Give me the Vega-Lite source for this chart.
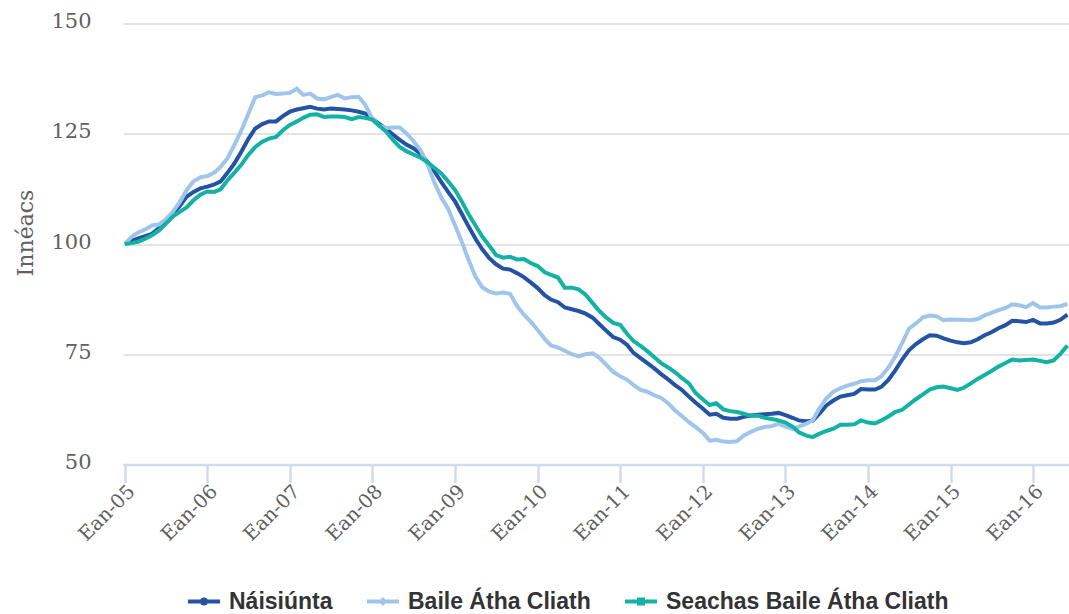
{
  "$schema": "https://vega.github.io/schema/vega-lite/v6.json",
  "width": 946,
  "height": 441,
  "autosize": {"type": "none"},
  "padding": {"left": 123, "top": 23.5, "right": 0, "bottom": 149.5},
  "background": "white",
  "config": {"view": {"stroke": null}},
  "data": {"values": [
    {"date":"2005-01-01","Náisiúnta":100.0,"Baile Átha Cliath":100.0,"Seachas Baile Átha Cliath":100.0},
    {"date":"2005-02-01","Náisiúnta":100.7,"Baile Átha Cliath":101.7,"Seachas Baile Átha Cliath":100.2},
    {"date":"2005-03-01","Náisiúnta":101.3,"Baile Átha Cliath":102.6,"Seachas Baile Átha Cliath":100.5},
    {"date":"2005-04-01","Náisiúnta":101.8,"Baile Átha Cliath":103.3,"Seachas Baile Átha Cliath":101.2},
    {"date":"2005-05-01","Náisiúnta":102.3,"Baile Átha Cliath":104.2,"Seachas Baile Átha Cliath":102.0},
    {"date":"2005-06-01","Náisiúnta":103.6,"Baile Átha Cliath":104.4,"Seachas Baile Átha Cliath":103.1},
    {"date":"2005-07-01","Náisiúnta":105.3,"Baile Átha Cliath":105.6,"Seachas Baile Átha Cliath":104.6},
    {"date":"2005-08-01","Náisiúnta":106.8,"Baile Átha Cliath":107.3,"Seachas Baile Átha Cliath":106.2},
    {"date":"2005-09-01","Náisiúnta":108.6,"Baile Átha Cliath":109.5,"Seachas Baile Átha Cliath":107.3},
    {"date":"2005-10-01","Náisiúnta":110.7,"Baile Átha Cliath":112.2,"Seachas Baile Átha Cliath":108.3},
    {"date":"2005-11-01","Náisiúnta":111.8,"Baile Átha Cliath":114.2,"Seachas Baile Átha Cliath":109.9},
    {"date":"2005-12-01","Náisiúnta":112.6,"Baile Átha Cliath":115.1,"Seachas Baile Átha Cliath":111.2},
    {"date":"2006-01-01","Náisiúnta":113.0,"Baile Átha Cliath":115.4,"Seachas Baile Átha Cliath":111.9},
    {"date":"2006-02-01","Náisiúnta":113.5,"Baile Átha Cliath":116.2,"Seachas Baile Átha Cliath":111.8},
    {"date":"2006-03-01","Náisiúnta":114.2,"Baile Átha Cliath":117.5,"Seachas Baile Átha Cliath":112.4},
    {"date":"2006-04-01","Náisiúnta":116.2,"Baile Átha Cliath":119.5,"Seachas Baile Átha Cliath":114.5},
    {"date":"2006-05-01","Náisiúnta":118.3,"Baile Átha Cliath":122.5,"Seachas Baile Átha Cliath":116.2},
    {"date":"2006-06-01","Náisiúnta":121.0,"Baile Átha Cliath":125.8,"Seachas Baile Átha Cliath":118.0},
    {"date":"2006-07-01","Náisiúnta":123.8,"Baile Átha Cliath":129.5,"Seachas Baile Átha Cliath":120.2},
    {"date":"2006-08-01","Náisiúnta":126.2,"Baile Átha Cliath":133.3,"Seachas Baile Átha Cliath":122.0},
    {"date":"2006-09-01","Náisiúnta":127.2,"Baile Átha Cliath":133.7,"Seachas Baile Átha Cliath":123.2},
    {"date":"2006-10-01","Náisiúnta":127.8,"Baile Átha Cliath":134.4,"Seachas Baile Átha Cliath":123.9},
    {"date":"2006-11-01","Náisiúnta":127.8,"Baile Átha Cliath":134.0,"Seachas Baile Átha Cliath":124.3},
    {"date":"2006-12-01","Náisiúnta":129.0,"Baile Átha Cliath":134.1,"Seachas Baile Átha Cliath":125.8},
    {"date":"2007-01-01","Náisiúnta":130.0,"Baile Átha Cliath":134.3,"Seachas Baile Átha Cliath":127.0},
    {"date":"2007-02-01","Náisiúnta":130.5,"Baile Átha Cliath":135.2,"Seachas Baile Átha Cliath":127.8},
    {"date":"2007-03-01","Náisiúnta":130.8,"Baile Átha Cliath":133.8,"Seachas Baile Átha Cliath":128.6},
    {"date":"2007-04-01","Náisiúnta":131.1,"Baile Átha Cliath":134.1,"Seachas Baile Átha Cliath":129.3},
    {"date":"2007-05-01","Náisiúnta":130.7,"Baile Átha Cliath":133.0,"Seachas Baile Átha Cliath":129.4},
    {"date":"2007-06-01","Náisiúnta":130.5,"Baile Átha Cliath":132.8,"Seachas Baile Átha Cliath":128.8},
    {"date":"2007-07-01","Náisiúnta":130.7,"Baile Átha Cliath":133.3,"Seachas Baile Átha Cliath":128.9},
    {"date":"2007-08-01","Náisiúnta":130.6,"Baile Átha Cliath":133.8,"Seachas Baile Átha Cliath":128.9},
    {"date":"2007-09-01","Náisiúnta":130.5,"Baile Átha Cliath":133.0,"Seachas Baile Átha Cliath":128.8},
    {"date":"2007-10-01","Náisiúnta":130.3,"Baile Átha Cliath":133.3,"Seachas Baile Átha Cliath":128.3},
    {"date":"2007-11-01","Náisiúnta":130.0,"Baile Átha Cliath":133.4,"Seachas Baile Átha Cliath":128.8},
    {"date":"2007-12-01","Náisiúnta":129.6,"Baile Átha Cliath":131.5,"Seachas Baile Átha Cliath":128.6},
    {"date":"2008-01-01","Náisiúnta":128.4,"Baile Átha Cliath":128.4,"Seachas Baile Átha Cliath":128.2},
    {"date":"2008-02-01","Náisiúnta":127.2,"Baile Átha Cliath":126.8,"Seachas Baile Átha Cliath":126.8},
    {"date":"2008-03-01","Náisiúnta":126.1,"Baile Átha Cliath":126.3,"Seachas Baile Átha Cliath":125.5},
    {"date":"2008-04-01","Náisiúnta":124.8,"Baile Átha Cliath":126.4,"Seachas Baile Átha Cliath":123.6},
    {"date":"2008-05-01","Náisiúnta":123.6,"Baile Átha Cliath":126.4,"Seachas Baile Átha Cliath":122.0},
    {"date":"2008-06-01","Náisiúnta":122.5,"Baile Átha Cliath":125.0,"Seachas Baile Átha Cliath":121.0},
    {"date":"2008-07-01","Náisiúnta":121.7,"Baile Átha Cliath":123.3,"Seachas Baile Átha Cliath":120.3},
    {"date":"2008-08-01","Náisiúnta":120.5,"Baile Átha Cliath":121.3,"Seachas Baile Átha Cliath":119.6},
    {"date":"2008-09-01","Náisiúnta":118.6,"Baile Átha Cliath":118.0,"Seachas Baile Átha Cliath":118.5},
    {"date":"2008-10-01","Náisiúnta":116.5,"Baile Átha Cliath":114.0,"Seachas Baile Átha Cliath":117.3},
    {"date":"2008-11-01","Náisiúnta":114.0,"Baile Átha Cliath":110.5,"Seachas Baile Átha Cliath":116.0},
    {"date":"2008-12-01","Náisiúnta":111.8,"Baile Átha Cliath":108.0,"Seachas Baile Átha Cliath":114.2},
    {"date":"2009-01-01","Náisiúnta":109.6,"Baile Átha Cliath":104.2,"Seachas Baile Átha Cliath":112.2},
    {"date":"2009-02-01","Náisiúnta":106.7,"Baile Átha Cliath":100.3,"Seachas Baile Átha Cliath":109.5},
    {"date":"2009-03-01","Náisiúnta":104.0,"Baile Átha Cliath":96.4,"Seachas Baile Átha Cliath":106.8},
    {"date":"2009-04-01","Náisiúnta":101.2,"Baile Átha Cliath":92.6,"Seachas Baile Átha Cliath":104.2},
    {"date":"2009-05-01","Náisiúnta":98.8,"Baile Átha Cliath":90.2,"Seachas Baile Átha Cliath":101.7},
    {"date":"2009-06-01","Náisiúnta":96.8,"Baile Átha Cliath":89.2,"Seachas Baile Átha Cliath":99.6},
    {"date":"2009-07-01","Náisiúnta":95.4,"Baile Átha Cliath":88.8,"Seachas Baile Átha Cliath":97.5},
    {"date":"2009-08-01","Náisiúnta":94.4,"Baile Átha Cliath":89.0,"Seachas Baile Átha Cliath":96.9},
    {"date":"2009-09-01","Náisiúnta":94.2,"Baile Átha Cliath":88.7,"Seachas Baile Átha Cliath":97.1},
    {"date":"2009-10-01","Náisiúnta":93.4,"Baile Átha Cliath":86.0,"Seachas Baile Átha Cliath":96.5},
    {"date":"2009-11-01","Náisiúnta":92.5,"Baile Átha Cliath":84.0,"Seachas Baile Átha Cliath":96.6},
    {"date":"2009-12-01","Náisiúnta":91.3,"Baile Átha Cliath":82.4,"Seachas Baile Átha Cliath":95.7},
    {"date":"2010-01-01","Náisiúnta":90.0,"Baile Átha Cliath":80.5,"Seachas Baile Átha Cliath":95.0},
    {"date":"2010-02-01","Náisiúnta":88.4,"Baile Átha Cliath":78.5,"Seachas Baile Átha Cliath":93.6},
    {"date":"2010-03-01","Náisiúnta":87.4,"Baile Átha Cliath":77.0,"Seachas Baile Átha Cliath":93.0},
    {"date":"2010-04-01","Náisiúnta":86.8,"Baile Átha Cliath":76.5,"Seachas Baile Átha Cliath":92.4},
    {"date":"2010-05-01","Náisiúnta":85.6,"Baile Átha Cliath":75.8,"Seachas Baile Átha Cliath":90.1},
    {"date":"2010-06-01","Náisiúnta":85.2,"Baile Átha Cliath":75.0,"Seachas Baile Átha Cliath":90.1},
    {"date":"2010-07-01","Náisiúnta":84.8,"Baile Átha Cliath":74.5,"Seachas Baile Átha Cliath":89.7},
    {"date":"2010-08-01","Náisiúnta":84.2,"Baile Átha Cliath":75.0,"Seachas Baile Átha Cliath":88.5},
    {"date":"2010-09-01","Náisiúnta":83.3,"Baile Átha Cliath":75.2,"Seachas Baile Átha Cliath":86.6},
    {"date":"2010-10-01","Náisiúnta":81.8,"Baile Átha Cliath":74.2,"Seachas Baile Átha Cliath":84.8},
    {"date":"2010-11-01","Náisiúnta":80.3,"Baile Átha Cliath":72.6,"Seachas Baile Átha Cliath":83.3},
    {"date":"2010-12-01","Náisiúnta":78.9,"Baile Átha Cliath":71.0,"Seachas Baile Átha Cliath":82.1},
    {"date":"2011-01-01","Náisiúnta":78.3,"Baile Átha Cliath":70.0,"Seachas Baile Átha Cliath":81.7},
    {"date":"2011-02-01","Náisiúnta":77.1,"Baile Átha Cliath":69.2,"Seachas Baile Átha Cliath":79.6},
    {"date":"2011-03-01","Náisiúnta":75.3,"Baile Átha Cliath":68.0,"Seachas Baile Átha Cliath":78.0},
    {"date":"2011-04-01","Náisiúnta":74.1,"Baile Átha Cliath":66.9,"Seachas Baile Átha Cliath":76.9},
    {"date":"2011-05-01","Náisiúnta":73.0,"Baile Átha Cliath":66.5,"Seachas Baile Átha Cliath":75.7},
    {"date":"2011-06-01","Náisiúnta":71.8,"Baile Átha Cliath":65.7,"Seachas Baile Átha Cliath":74.3},
    {"date":"2011-07-01","Náisiúnta":70.5,"Baile Átha Cliath":65.1,"Seachas Baile Átha Cliath":73.0},
    {"date":"2011-08-01","Náisiúnta":69.3,"Baile Átha Cliath":63.9,"Seachas Baile Átha Cliath":72.0},
    {"date":"2011-09-01","Náisiúnta":68.0,"Baile Átha Cliath":62.2,"Seachas Baile Átha Cliath":70.9},
    {"date":"2011-10-01","Náisiúnta":66.9,"Baile Átha Cliath":61.0,"Seachas Baile Átha Cliath":69.6},
    {"date":"2011-11-01","Náisiúnta":65.4,"Baile Átha Cliath":59.6,"Seachas Baile Átha Cliath":68.4},
    {"date":"2011-12-01","Náisiúnta":64.0,"Baile Átha Cliath":58.5,"Seachas Baile Átha Cliath":66.2},
    {"date":"2012-01-01","Náisiúnta":62.7,"Baile Átha Cliath":57.2,"Seachas Baile Átha Cliath":64.8},
    {"date":"2012-02-01","Náisiúnta":61.3,"Baile Átha Cliath":55.4,"Seachas Baile Átha Cliath":63.5},
    {"date":"2012-03-01","Náisiúnta":61.5,"Baile Átha Cliath":55.6,"Seachas Baile Átha Cliath":63.9},
    {"date":"2012-04-01","Náisiúnta":60.6,"Baile Átha Cliath":55.2,"Seachas Baile Átha Cliath":62.5},
    {"date":"2012-05-01","Náisiúnta":60.4,"Baile Átha Cliath":55.1,"Seachas Baile Átha Cliath":62.1},
    {"date":"2012-06-01","Náisiúnta":60.4,"Baile Átha Cliath":55.3,"Seachas Baile Átha Cliath":61.9},
    {"date":"2012-07-01","Náisiúnta":60.8,"Baile Átha Cliath":56.6,"Seachas Baile Átha Cliath":61.5},
    {"date":"2012-08-01","Náisiúnta":61.1,"Baile Átha Cliath":57.4,"Seachas Baile Átha Cliath":61.0},
    {"date":"2012-09-01","Náisiúnta":61.3,"Baile Átha Cliath":58.1,"Seachas Baile Átha Cliath":61.1},
    {"date":"2012-10-01","Náisiúnta":61.4,"Baile Átha Cliath":58.5,"Seachas Baile Átha Cliath":60.6},
    {"date":"2012-11-01","Náisiúnta":61.5,"Baile Átha Cliath":58.7,"Seachas Baile Átha Cliath":60.3},
    {"date":"2012-12-01","Náisiúnta":61.7,"Baile Átha Cliath":59.2,"Seachas Baile Átha Cliath":60.0},
    {"date":"2013-01-01","Náisiúnta":61.2,"Baile Átha Cliath":58.6,"Seachas Baile Átha Cliath":59.5},
    {"date":"2013-02-01","Náisiúnta":60.6,"Baile Átha Cliath":58.1,"Seachas Baile Átha Cliath":58.6},
    {"date":"2013-03-01","Náisiúnta":60.0,"Baile Átha Cliath":58.6,"Seachas Baile Átha Cliath":57.3},
    {"date":"2013-04-01","Náisiúnta":59.8,"Baile Átha Cliath":59.2,"Seachas Baile Átha Cliath":56.6},
    {"date":"2013-05-01","Náisiúnta":59.9,"Baile Átha Cliath":60.0,"Seachas Baile Átha Cliath":56.2},
    {"date":"2013-06-01","Náisiúnta":61.6,"Baile Átha Cliath":62.8,"Seachas Baile Átha Cliath":57.0},
    {"date":"2013-07-01","Náisiúnta":63.4,"Baile Átha Cliath":65.0,"Seachas Baile Átha Cliath":57.6},
    {"date":"2013-08-01","Náisiúnta":64.5,"Baile Átha Cliath":66.5,"Seachas Baile Átha Cliath":58.1},
    {"date":"2013-09-01","Náisiúnta":65.4,"Baile Átha Cliath":67.3,"Seachas Baile Átha Cliath":59.0},
    {"date":"2013-10-01","Náisiúnta":65.7,"Baile Átha Cliath":67.9,"Seachas Baile Átha Cliath":59.0},
    {"date":"2013-11-01","Náisiúnta":66.0,"Baile Átha Cliath":68.3,"Seachas Baile Átha Cliath":59.1},
    {"date":"2013-12-01","Náisiúnta":67.1,"Baile Átha Cliath":68.9,"Seachas Baile Átha Cliath":60.0},
    {"date":"2014-01-01","Náisiúnta":67.0,"Baile Átha Cliath":69.1,"Seachas Baile Átha Cliath":59.5},
    {"date":"2014-02-01","Náisiúnta":67.0,"Baile Átha Cliath":69.1,"Seachas Baile Átha Cliath":59.3},
    {"date":"2014-03-01","Náisiúnta":67.6,"Baile Átha Cliath":70.0,"Seachas Baile Átha Cliath":60.0},
    {"date":"2014-04-01","Náisiúnta":69.2,"Baile Átha Cliath":72.0,"Seachas Baile Átha Cliath":60.9},
    {"date":"2014-05-01","Náisiúnta":71.3,"Baile Átha Cliath":74.4,"Seachas Baile Átha Cliath":61.9},
    {"date":"2014-06-01","Náisiúnta":73.8,"Baile Átha Cliath":77.5,"Seachas Baile Átha Cliath":62.4},
    {"date":"2014-07-01","Náisiúnta":75.9,"Baile Átha Cliath":80.8,"Seachas Baile Átha Cliath":63.6},
    {"date":"2014-08-01","Náisiúnta":77.3,"Baile Átha Cliath":82.0,"Seachas Baile Átha Cliath":64.8},
    {"date":"2014-09-01","Náisiúnta":78.4,"Baile Átha Cliath":83.4,"Seachas Baile Átha Cliath":65.9},
    {"date":"2014-10-01","Náisiúnta":79.3,"Baile Átha Cliath":83.8,"Seachas Baile Átha Cliath":67.0},
    {"date":"2014-11-01","Náisiúnta":79.2,"Baile Átha Cliath":83.6,"Seachas Baile Átha Cliath":67.5},
    {"date":"2014-12-01","Náisiúnta":78.6,"Baile Átha Cliath":82.7,"Seachas Baile Átha Cliath":67.7},
    {"date":"2015-01-01","Náisiúnta":78.1,"Baile Átha Cliath":82.9,"Seachas Baile Átha Cliath":67.3},
    {"date":"2015-02-01","Náisiúnta":77.7,"Baile Átha Cliath":82.85,"Seachas Baile Átha Cliath":66.9},
    {"date":"2015-03-01","Náisiúnta":77.5,"Baile Átha Cliath":82.8,"Seachas Baile Átha Cliath":67.4},
    {"date":"2015-04-01","Náisiúnta":77.7,"Baile Átha Cliath":82.7,"Seachas Baile Átha Cliath":68.4},
    {"date":"2015-05-01","Náisiúnta":78.4,"Baile Átha Cliath":83.0,"Seachas Baile Átha Cliath":69.4},
    {"date":"2015-06-01","Náisiúnta":79.3,"Baile Átha Cliath":83.8,"Seachas Baile Átha Cliath":70.3},
    {"date":"2015-07-01","Náisiúnta":80.0,"Baile Átha Cliath":84.4,"Seachas Baile Átha Cliath":71.2},
    {"date":"2015-08-01","Náisiúnta":80.9,"Baile Átha Cliath":85.0,"Seachas Baile Átha Cliath":72.2},
    {"date":"2015-09-01","Náisiúnta":81.6,"Baile Átha Cliath":85.5,"Seachas Baile Átha Cliath":73.0},
    {"date":"2015-10-01","Náisiúnta":82.6,"Baile Átha Cliath":86.3,"Seachas Baile Átha Cliath":73.8},
    {"date":"2015-11-01","Náisiúnta":82.5,"Baile Átha Cliath":86.1,"Seachas Baile Átha Cliath":73.6},
    {"date":"2015-12-01","Náisiúnta":82.3,"Baile Átha Cliath":85.7,"Seachas Baile Átha Cliath":73.7},
    {"date":"2016-01-01","Náisiúnta":82.8,"Baile Átha Cliath":86.6,"Seachas Baile Átha Cliath":73.8},
    {"date":"2016-02-01","Náisiúnta":82.0,"Baile Átha Cliath":85.6,"Seachas Baile Átha Cliath":73.5},
    {"date":"2016-03-01","Náisiúnta":82.0,"Baile Átha Cliath":85.6,"Seachas Baile Átha Cliath":73.2},
    {"date":"2016-04-01","Náisiúnta":82.2,"Baile Átha Cliath":85.8,"Seachas Baile Átha Cliath":73.6},
    {"date":"2016-05-01","Náisiúnta":82.8,"Baile Átha Cliath":85.9,"Seachas Baile Átha Cliath":75.1},
    {"date":"2016-06-01","Náisiúnta":84.0,"Baile Átha Cliath":86.4,"Seachas Baile Átha Cliath":77.0}
  ]},
  "transform": [
    {"fold": ["Náisiúnta", "Baile Átha Cliath", "Seachas Baile Átha Cliath"], "as": ["series", "value"]}
  ],
  "mark": {"type": "line", "strokeWidth": 4, "clip": true},
  "encoding": {
    "x": {
      "field": "date", "type": "temporal",
      "scale": {"type": "utc", "domain": [{"year": 2004, "month": 12, "date": 24, "utc": true}, {"year": 2016, "month": 6, "date": 8, "utc": true}]},
      "axis": {
        "title": null,
        "values": [
          {"year": 2005, "month": 1, "date": 1, "utc": true}, {"year": 2006, "month": 1, "date": 1, "utc": true},
          {"year": 2007, "month": 1, "date": 1, "utc": true}, {"year": 2008, "month": 1, "date": 1, "utc": true},
          {"year": 2009, "month": 1, "date": 1, "utc": true}, {"year": 2010, "month": 1, "date": 1, "utc": true},
          {"year": 2011, "month": 1, "date": 1, "utc": true}, {"year": 2012, "month": 1, "date": 1, "utc": true},
          {"year": 2013, "month": 1, "date": 1, "utc": true}, {"year": 2014, "month": 1, "date": 1, "utc": true},
          {"year": 2015, "month": 1, "date": 1, "utc": true}, {"year": 2016, "month": 1, "date": 1, "utc": true}
        ],
        "labelExpr": "'Ean-' + utcFormat(datum.value, '%y')",
        "labelAngle": -45,
        "labelAlign": "right",
        "labelBaseline": "top",
        "labelFont": "DejaVu Serif",
        "labelFontSize": 19.5,
        "labelColor": "#606060",
        "labelPadding": -1,
        "labelOverlap": false,
        "labelBound": false,
        "labelFlush": false,
        "grid": false,
        "domainColor": "#cfdbee",
        "domainWidth": 2.5,
        "tickColor": "#cfdbee",
        "tickWidth": 2.5,
        "tickSize": 18
      }
    },
    "y": {
      "field": "value", "type": "quantitative",
      "scale": {"domain": [50, 150], "nice": false, "zero": false},
      "axis": {
        "values": [50, 75, 100, 125, 150],
        "domain": false,
        "ticks": false,
        "grid": true,
        "gridColor": "#e4e4e4",
        "gridWidth": 2,
        "labelFont": "DejaVu Serif",
        "labelFontSize": 21,
        "labelColor": "#606060",
        "labelPadding": 32,
        "labelOffset": -2,
        "title": "Innéacs",
        "titleFont": "DejaVu Serif",
        "titleFontSize": 22,
        "titleFontWeight": "normal",
        "titleColor": "#606060",
        "titleAngle": -90,
        "titleAlign": "center",
        "titleBaseline": "alphabetic",
        "titleX": -91,
        "titleY": 209
      }
    },
    "color": {
      "field": "series", "type": "nominal",
      "scale": {"domain": ["Náisiúnta", "Baile Átha Cliath", "Seachas Baile Átha Cliath"], "range": ["#2453a4", "#9fc6ea", "#13b2a5"]},
      "legend": {
        "orient": "none", "legendX": 63, "legendY": 560, "direction": "horizontal", "title": null,
        "symbolType": "M-1,0H1M0.125,0A0.125,0.125 0 1,1 -0.125,0A0.125,0.125 0 1,1 0.125,0Z",
        "symbolSize": 1024, "symbolStrokeWidth": 4,
        "labelFont": "Liberation Sans", "labelFontSize": 23, "labelFontWeight": "bold", "labelColor": "#333333",
        "labelOffset": 7, "columnPadding": 26, "padding": 0, "labelLimit": 500,
        "encode": {
          "symbols": {
            "update": {
              "shape": {"signal": "datum.value === 'Náisiúnta' ? 'M-1,0H1M0.125,0A0.125,0.125 0 1,1 -0.125,0A0.125,0.125 0 1,1 0.125,0Z' : datum.value === 'Baile Átha Cliath' ? 'M-1,0H1M0,-0.1L0.1,0L0,0.1L-0.1,0Z' : 'M-1,0H1M-0.125,-0.125H0.125V0.125H-0.125Z'"}
            }
          }
        }
      }
    }
  }
}
